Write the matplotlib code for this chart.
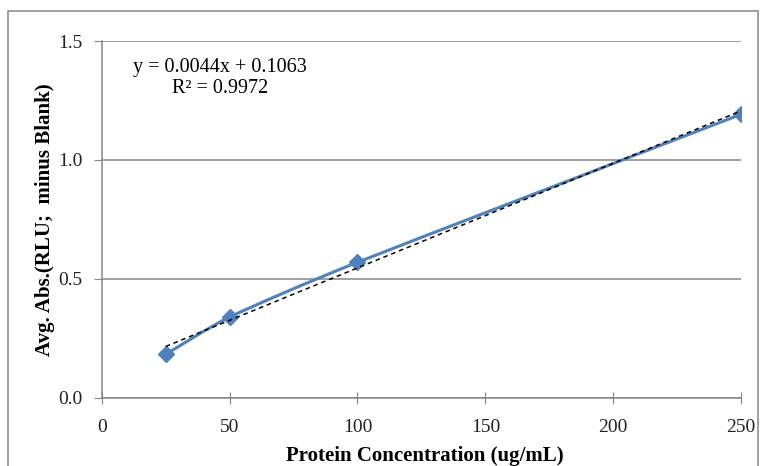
"""Protein standard curve (avg. absorbance vs concentration)."""

import matplotlib
matplotlib.use("Agg")
import matplotlib.pyplot as plt
import numpy as np
from matplotlib.path import Path
from matplotlib.patches import PathPatch, Rectangle

concentration = [25, 50, 100, 250]
avg_abs = [0.183, 0.340, 0.570, 1.192]
fit_slope = 0.0044
fit_intercept = 0.1063
fit_r2 = 0.9972

blue = "#4F81BD"
grey = "#868686"

plt.rcParams["font.family"] = ["Liberation Serif", "DejaVu Serif"]

fig = plt.figure(figsize=(7.63, 4.66), dpi=100)
ax = fig.add_axes([0.1333, 0.146, 0.838, 0.766])

# Excel-style smoothed line through the points (cubic Bezier segments)
pts = np.column_stack([concentration, avg_abs]).astype(float)
verts = [pts[0]]
codes = [Path.MOVETO]
tension = 1 / 10
for i in range(len(pts) - 1):
    p0 = pts[i - 1] if i > 0 else pts[i]
    p1, p2 = pts[i], pts[i + 1]
    p3 = pts[i + 2] if i + 2 < len(pts) else pts[i + 1]
    c1 = p1 + (p2 - p0) * tension
    c2 = p2 - (p3 - p1) * tension
    verts += [c1, c2, p2]
    codes += [Path.CURVE4] * 3
ax.add_patch(PathPatch(Path(verts, codes), facecolor="none", edgecolor=blue,
                       lw=2.2, zorder=3))
ax.plot(concentration, avg_abs, linestyle="none", marker="D", ms=8,
        color=blue, zorder=4)

# linear trendline
xs = np.array([min(concentration), max(concentration)])
ax.plot(xs, fit_slope * xs + fit_intercept, color="black", ls=(0, (3, 2.5)),
        lw=1.1, zorder=5)

ax.text(0.185, 0.925, f"y = {fit_slope}x + {fit_intercept}",
        transform=ax.transAxes, ha="center", va="center", fontsize=14.5)
ax.text(0.185, 0.868, f"R² = {fit_r2}", transform=ax.transAxes,
        ha="center", va="center", fontsize=14.5)

ax.set_xlim(0, 250)
ax.set_ylim(0, 1.5)
ax.set_xticks([0, 50, 100, 150, 200, 250])
ax.set_yticks([0.0, 0.5, 1.0, 1.5])
ax.set_yticklabels(["0.0", "0.5", "1.0", "1.5"])
ax.yaxis.grid(True, color=grey, lw=1.1)
ax.set_axisbelow(True)
for side in ["top", "right"]:
    ax.spines[side].set_visible(False)
for side in ["left", "bottom"]:
    ax.spines[side].set_color(grey)
    ax.spines[side].set_linewidth(1.1)
ax.tick_params(axis="x", direction="inout", length=8, color=grey,
               labelsize=14, pad=11, labelcolor="#222222")
ax.tick_params(axis="y", direction="out", length=6, color=grey,
               labelsize=14, pad=8, labelcolor="#222222")

ax.set_xlabel("Protein Concentration (ug/mL)", fontsize=15,
              fontweight="bold")
ax.xaxis.set_label_coords(0.505, -0.135)
ax.set_ylabel("Avg. Abs.(RLU;  minus Blank)", fontsize=15,
              fontweight="bold", labelpad=2)

# outer chart border
fig.patches.append(Rectangle((0.011, -0.01), 0.983, 0.986,
                             transform=fig.transFigure, fill=False,
                             edgecolor=grey, lw=1.1))

fig.savefig("out.png", dpi=100)
plt.close(fig)
